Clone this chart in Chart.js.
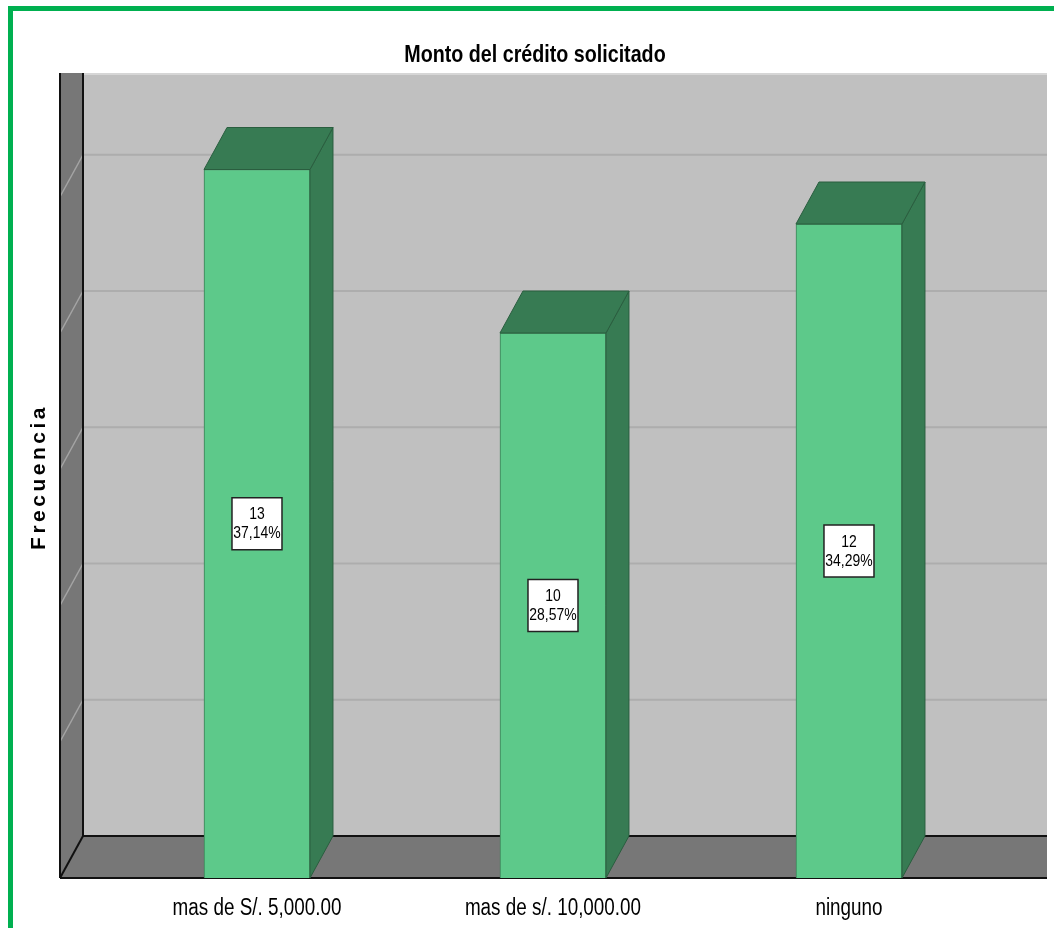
<!DOCTYPE html>
<html>
<head>
<meta charset="utf-8">
<script src="https://cdn.jsdelivr.net/npm/chart.js@4.4.1/dist/chart.umd.min.js"></script>
<style>
  html, body { margin: 0; padding: 0; background: #fff; overflow: hidden; }
  #wrap { position: relative; width: 1054px; height: 928px; }
  #frame { position: absolute; left: 8px; top: 6px; width: 1100px; height: 1000px; border: 5px solid #00b050; box-sizing: border-box; }
  canvas { position: absolute; left: 0; top: 0; }
</style>
</head>
<body>
<div id="wrap">
  <div id="frame"></div>
  <canvas id="myChart" width="1054" height="928"></canvas>
</div>
<script>
"use strict";

// values
let chartTitle = "Monto del crédito solicitado";
let axisTitle = "Frecuencia";
let categories = ["mas de S/. 5,000.00", "mas de s/. 10,000.00", "ninguno"];
let frequencies = [13, 10, 12];
let percents = [37.14, 28.57, 34.29];
let yTicks = [0, 2.5, 5, 7.5, 10, 12.5];
let yMax = 14;

// 3d look
const depthX = 23;
const depthY = 42;
const sans = "'Liberation Sans', Arial, sans-serif";
const squeeze = 0.82; // no narrow font here, so squash the regular one

function line(ctx, x1, y1, x2, y2) {
    ctx.beginPath();
    ctx.moveTo(x1, y1);
    ctx.lineTo(x2, y2);
    ctx.stroke();
}

function poly(ctx, pts) {
    ctx.beginPath();
    ctx.moveTo(pts[0][0], pts[0][1]);
    for (let i = 1; i < pts.length; i++) {
        ctx.lineTo(pts[i][0], pts[i][1]);
    }
    ctx.closePath();
}

// text drawn narrow like Arial Narrow
function narrowText(ctx, text, x, y, font) {
    ctx.save();
    ctx.translate(x, y);
    ctx.scale(squeeze, 1);
    ctx.font = font;
    ctx.fillStyle = "#000000";
    ctx.textAlign = "center";
    ctx.textBaseline = "middle";
    ctx.fillText(text, 0, 0);
    ctx.restore();
}

// walls, floor, bar tops/sides, value boxes and the texts
const box3d = {
    id: "box3d",
    beforeDatasetsDraw(chart) {
        const { ctx, chartArea: a, scales: { y } } = chart;
        const top = y.getPixelForValue(yMax) - depthY;
        const bx = a.left + depthX;
        const by = a.bottom - depthY;
        ctx.save();

        // back wall
        ctx.fillStyle = "#c0c0c0";
        ctx.fillRect(bx, top, a.right - bx, by - top);
        ctx.strokeStyle = "#d6d6d6";
        ctx.lineWidth = 2;
        line(ctx, bx, top + 1, a.right, top + 1);
        ctx.strokeStyle = "#adadad";
        yTicks.slice(1).forEach(v => {
            let py = y.getPixelForValue(v) - depthY;
            line(ctx, bx, py, a.right, py);
        });

        // left wall
        ctx.fillStyle = "#777777";
        poly(ctx, [[a.left, top], [bx, top], [bx, by], [a.left, a.bottom]]);
        ctx.fill();
        ctx.strokeStyle = "#a4a4a4";
        ctx.lineWidth = 1.5;
        yTicks.slice(1).forEach(v => {
            let py = y.getPixelForValue(v);
            line(ctx, bx, py - depthY, a.left, py);
        });

        // floor
        ctx.fillStyle = "#777777";
        poly(ctx, [[a.left, a.bottom], [bx, by], [a.right, by], [a.right, a.bottom]]);
        ctx.fill();

        ctx.strokeStyle = "#111111";
        ctx.lineWidth = 2;
        line(ctx, a.left, top, a.left, a.bottom);
        line(ctx, bx, top, bx, by);
        line(ctx, bx, by, a.right, by);
        line(ctx, a.left, a.bottom, a.right, a.bottom);
        line(ctx, a.left, a.bottom, bx, by);
        ctx.restore();
    },
    afterDatasetsDraw(chart) {
        const { ctx } = chart;
        const meta = chart.getDatasetMeta(0);
        ctx.save();
        meta.data.forEach((bar, i) => {
            const p = bar.getProps(["x", "y", "base", "width"], true);
            const xl = p.x - p.width / 2;
            const xr = p.x + p.width / 2;

            ctx.fillStyle = "#377b53";
            ctx.strokeStyle = "#2a5e3f";
            ctx.lineWidth = 1;
            // side
            poly(ctx, [[xr, p.y], [xr + depthX, p.y - depthY], [xr + depthX, p.base - depthY], [xr, p.base]]);
            ctx.fill();
            ctx.stroke();
            // top
            poly(ctx, [[xl, p.y], [xl + depthX, p.y - depthY], [xr + depthX, p.y - depthY], [xr, p.y]]);
            ctx.fill();
            ctx.stroke();

            // value label
            const cy = (p.y + p.base) / 2;
            ctx.fillStyle = "#ffffff";
            ctx.fillRect(p.x - 25, cy - 26, 50, 52);
            ctx.strokeStyle = "#222222";
            ctx.lineWidth = 1.5;
            ctx.strokeRect(p.x - 25, cy - 26, 50, 52);
            narrowText(ctx, String(frequencies[i]), p.x, cy - 9, "17px " + sans);
            narrowText(ctx, percents[i].toFixed(2).replace(".", ",") + "%", p.x, cy + 10, "17px " + sans);
        });
        ctx.restore();
    },
    afterDraw(chart) {
        const { ctx, scales: { x } } = chart;

        narrowText(ctx, chartTitle, 535, 55, "bold 24px " + sans);

        categories.forEach((c, i) => {
            narrowText(ctx, c, x.getPixelForValue(i), 909, "23px " + sans);
        });

        // axis title, letter spaced like the original
        ctx.save();
        ctx.translate(39, 477);
        ctx.rotate(-Math.PI / 2);
        ctx.font = "bold 21px " + sans;
        ctx.letterSpacing = "3.5px";
        ctx.fillStyle = "#000000";
        ctx.textAlign = "center";
        ctx.textBaseline = "middle";
        ctx.fillText(axisTitle, 0, 0);
        ctx.restore();
    }
};

const ctx = document.getElementById("myChart");

new Chart(ctx, {
    type: "bar",
    data: {
        datasets: [{
            label: axisTitle,
            data: categories.map((c, i) => ({ x: i, y: frequencies[i] })),
            backgroundColor: "#5dc98a",
            borderColor: "#3d7f57",
            borderWidth: 1,
            barThickness: 106
        }]
    },
    options: {
        responsive: false,
        animation: false,
        layout: {
            padding: { left: 60, right: 7, top: 115, bottom: 50 }
        },
        plugins: {
            legend: { display: false },
            tooltip: { enabled: false },
            title: { display: false }
        },
        scales: {
            x: {
                type: "linear",
                display: false,
                offset: false,
                min: -0.6655,
                max: 2.669
            },
            y: {
                display: false,
                min: 0,
                max: yMax,
                ticks: { stepSize: 2.5 }
            }
        }
    },
    plugins: [box3d]
});
</script>
</body>
</html>
